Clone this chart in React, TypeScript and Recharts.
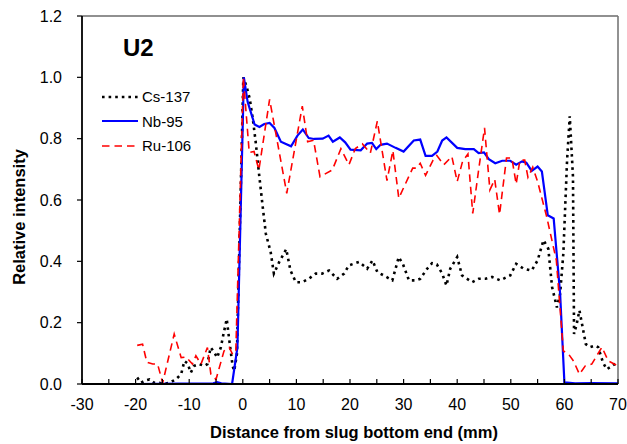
import { LineChart, Line, XAxis, YAxis, ReferenceLine, Legend } from "recharts"

// ── Data (distance in mm, relative intensity) ─────────────────────────────

const CS137: [number, number][] = [
  [-19.7, 0.021], [-19, 0.004], [-18.1, 0.012], [-17.4, 0.015], [-16.5, 0.004],
  [-15.6, 0.004], [-14.7, 0], [-13.7, 0.004], [-12.5, 0.015], [-11.5, 0.032],
  [-10.9, 0.075], [-10.3, 0.067], [-9.7, 0.037], [-9.1, 0.059], [-8.1, 0.065],
  [-7.2, 0.059], [-6.6, 0.065], [-6, 0.119], [-5.3, 0.103], [-4.8, 0.086],
  [-4.1, 0.119], [-3.6, 0.163], [-3, 0.212], [-2.55, 0.147], [-1.9, 0.059],
  [-1.6, 0.043], [-1.1, 0.097], [0.1, 1.0], [0.7, 0.97], [1.3, 0.93],
  [1.9, 0.86], [2.4, 0.79], [3.0, 0.69], [3.7, 0.58], [4.3, 0.49],
  [5.2, 0.43], [5.8, 0.36], [6.8, 0.398], [8.1, 0.44], [8.9, 0.37],
  [9.9, 0.332], [11.1, 0.332], [12.3, 0.343], [13.6, 0.36], [14.8, 0.36],
  [16.1, 0.37], [17.6, 0.343], [18.9, 0.36], [19.8, 0.387], [21.7, 0.398],
  [23.2, 0.376], [24.2, 0.403], [25.1, 0.365], [26.3, 0.354], [27.9, 0.338],
  [29.1, 0.414], [29.9, 0.39], [31, 0.338], [32.2, 0.338], [33.1, 0.343],
  [34.4, 0.376], [35.3, 0.394], [36.2, 0.39], [37.2, 0.36], [38, 0.321],
  [38.7, 0.376], [40, 0.414], [40.9, 0.354], [42.8, 0.332], [44, 0.343],
  [45.3, 0.343], [46.5, 0.349], [48, 0.338], [49.9, 0.354], [51, 0.392],
  [52.4, 0.376], [53.9, 0.37], [55, 0.403], [56.1, 0.469], [57, 0.441],
  [57.7, 0.316], [58.6, 0.25], [59.2, 0.294], [59.8, 0.425], [60.5, 0.73],
  [61, 0.873], [61.6, 0.676], [61.8, 0.163], [62.3, 0.196], [62.8, 0.24],
  [64, 0.13], [64.8, 0.12], [65.7, 0.125], [66.3, 0.12], [67.2, 0.07],
  [67.9, 0.048], [68.9, 0.059], [69.8, 0.07],
]

const NB95: [number, number][] = [
  [-19.7, 0], [-12, 0.001], [-5.5, 0.002], [-4.8, 0.006], [-4, 0.002],
  [-2, 0], [-1, 0.12], [0.2, 1.0], [0.9, 0.92], [2.2, 0.846],
  [3.1, 0.838], [4, 0.848], [5, 0.851], [5.9, 0.835], [7.1, 0.79],
  [9, 0.775], [10.2, 0.81], [11.2, 0.83], [12.3, 0.802], [13.3, 0.799],
  [14.9, 0.8], [16, 0.81], [16.8, 0.79], [18.1, 0.804], [19.1, 0.788],
  [20.1, 0.764], [22, 0.762], [23.2, 0.784], [24.1, 0.786], [24.9, 0.766],
  [25.7, 0.78], [26.9, 0.784], [28.5, 0.77], [30, 0.758], [31.9, 0.794],
  [33.1, 0.797], [34.1, 0.744], [35.3, 0.744], [36.3, 0.758], [37.2, 0.794],
  [38, 0.804], [40, 0.77], [41.5, 0.766], [43.1, 0.766], [44, 0.753],
  [45, 0.755], [45.9, 0.733], [47.1, 0.72], [48.4, 0.728], [49.9, 0.728],
  [51, 0.715], [52.1, 0.726], [52.9, 0.722], [53.9, 0.695], [55, 0.709],
  [55.8, 0.693], [56.9, 0.55], [58, 0.54], [59.2, 0.295], [60, 0.005],
  [62, 0.002], [65, 0.003], [70, 0.002],
]

const RU106: [number, number][] = [
  [-19.7, 0.126], [-18.7, 0.13], [-17.9, 0.071], [-16.8, 0.065], [-15.9, 0.065],
  [-14.95, 0.004], [-12.8, 0.163], [-11.5, 0.086], [-10.6, 0.088], [-9.4, 0.065],
  [-8.75, 0.092], [-7.8, 0.065], [-6.6, 0.119], [-5.96, 0.032], [-5, 0.015],
  [-3.5, 0.108], [-2.55, 0.119], [-1.9, 0.097], [-1.3, 0.108], [0.1, 1.0],
  [1.2, 0.755], [2.1, 0.758], [3.0, 0.698], [5.0, 0.928], [8.2, 0.622],
  [11.1, 0.906], [12.1, 0.79], [13.2, 0.795], [14.4, 0.676], [16.7, 0.698],
  [18.3, 0.767], [19.8, 0.715], [21, 0.768], [22.3, 0.783], [23.8, 0.753],
  [25.1, 0.857], [26.9, 0.663], [28, 0.761], [29.1, 0.606], [31.7, 0.704],
  [32.4, 0.704], [33.1, 0.72], [34.1, 0.68], [35.5, 0.73], [36.2, 0.745],
  [37.5, 0.715], [39, 0.742], [40, 0.66], [41, 0.726], [42, 0.75],
  [42.9, 0.556], [44, 0.698], [45.1, 0.835], [46.1, 0.633], [47, 0.667],
  [47.9, 0.553], [49.2, 0.737], [50.2, 0.737], [51, 0.652], [51.7, 0.73],
  [52.6, 0.73], [53.2, 0.674], [54.1, 0.707], [55, 0.66], [56.7, 0.545],
  [58.5, 0.403], [59.8, 0.108], [60.8, 0.097], [61.7, 0.075], [62.8, 0.032],
  [63.9, 0.059], [65.1, 0.065], [67, 0.12], [68.2, 0.075], [70, 0.059],
]

const X_TICKS = [-30, -25, -20, -15, -10, -5, 0, 5, 10, 15, 20, 25, 30, 35, 40, 45, 50, 55, 60, 65, 70]
const Y_TICKS = [0, 0.2, 0.4, 0.6, 0.8, 1.0, 1.2]

// ── Styling ────────────────────────────────────────────────────────────────

const FONT = '"Liberation Sans", Arial, sans-serif'
const TICK_STYLE = { fontSize: 16, fill: "#000", fontFamily: FONT }

const SERIES = [
  { name: "Cs-137", points: CS137, color: "#000000", width: 2.6, dash: "2.6 4" },
  { name: "Nb-95", points: NB95, color: "#0000FF", width: 2.2, dash: undefined },
  { name: "Ru-106", points: RU106, color: "#FF0000", width: 1.6, dash: "7.5 5" },
]

const toRows = (pts: [number, number][]) => pts.map(([x, y]) => ({ x, y }))

// ── Pieces ─────────────────────────────────────────────────────────────────

function LegendBox() {
  return (
    <div style={{ fontFamily: FONT, fontSize: 15, color: "#000" }}>
      {SERIES.map((s) => (
        <div key={s.name} style={{ display: "flex", alignItems: "center", height: 24.5 }}>
          <svg width={38} height={8} style={{ display: "block" }}>
            <line
              x1={1}
              x2={37}
              y1={4}
              y2={4}
              stroke={s.color}
              strokeWidth={s.width}
              strokeDasharray={s.dash}
            />
          </svg>
          <span style={{ marginLeft: 3 }}>{s.name}</span>
        </div>
      ))}
    </div>
  )
}

function xTitle(props: any) {
  const vb = props.viewBox ?? { x: 82, y: 384, width: 536 }
  return (
    <text
      x={vb.x + vb.width / 2 + 4}
      y={vb.y + 54}
      textAnchor="middle"
      fontFamily={FONT}
      fontSize={16.5}
      fontWeight="bold"
      fill="#000"
    >
      Distance from slug bottom end (mm)
    </text>
  )
}

function yTitle(props: any) {
  const vb = props.viewBox ?? { x: 0, y: 16, height: 368 }
  const cx = vb.x + 25
  const cy = vb.y + vb.height / 2 + 17
  return (
    <text
      x={cx}
      y={cy}
      transform={`rotate(-90 ${cx} ${cy})`}
      textAnchor="middle"
      fontFamily={FONT}
      fontSize={16.5}
      fontWeight="bold"
      fill="#000"
    >
      Relative intensity
    </text>
  )
}

export default function App() {
  return (
    <div style={{ position: "absolute", left: 0, top: 0, width: 627, height: 444, background: "#fff" }}>
      <LineChart width={627} height={444} margin={{ top: 16, right: 9, bottom: 0, left: 0 }}>
        <XAxis
          type="number"
          dataKey="x"
          domain={[-30, 70]}
          ticks={X_TICKS}
          interval={0}
          allowDataOverflow
          height={60}
          tickFormatter={(v: number) => (v % 10 === 0 ? String(v) : "")}
          tick={TICK_STYLE}
          tickSize={-5}
          tickMargin={20}
          axisLine={{ stroke: "#000", strokeWidth: 1.8 }}
          tickLine={{ stroke: "#000", strokeWidth: 1.2 }}
          label={xTitle}
        />
        <YAxis
          type="number"
          domain={[0, 1.2]}
          ticks={Y_TICKS}
          interval={0}
          allowDataOverflow
          width={82}
          tickFormatter={(v: number) => v.toFixed(1)}
          tick={TICK_STYLE}
          tickSize={5}
          tickMargin={15}
          axisLine={{ stroke: "#000", strokeWidth: 1.8 }}
          tickLine={{ stroke: "#000", strokeWidth: 1.2 }}
          label={yTitle}
        />
        <ReferenceLine y={1.2} stroke="#222" strokeWidth={1.2} />
        <ReferenceLine x={70} stroke="#777" strokeWidth={1.6} />
        {SERIES.map((s) => (
          <Line
            key={s.name}
            data={toRows(s.points)}
            dataKey="y"
            name={s.name}
            type="linear"
            stroke={s.color}
            strokeWidth={s.width}
            strokeDasharray={s.dash}
            dot={false}
            activeDot={false}
            isAnimationActive={false}
          />
        ))}
        <Legend
          layout="vertical"
          align="center"
          verticalAlign="middle"
          content={<LegendBox />}
          wrapperStyle={{ left: 101, top: 84.4, width: "auto", height: "auto" }}
        />
      </LineChart>
      <div
        style={{
          position: "absolute",
          left: 123,
          top: 36.4,
          fontFamily: FONT,
          fontSize: 24,
          fontWeight: "bold",
          lineHeight: "24px",
          color: "#000",
        }}
      >
        U2
      </div>
    </div>
  )
}
